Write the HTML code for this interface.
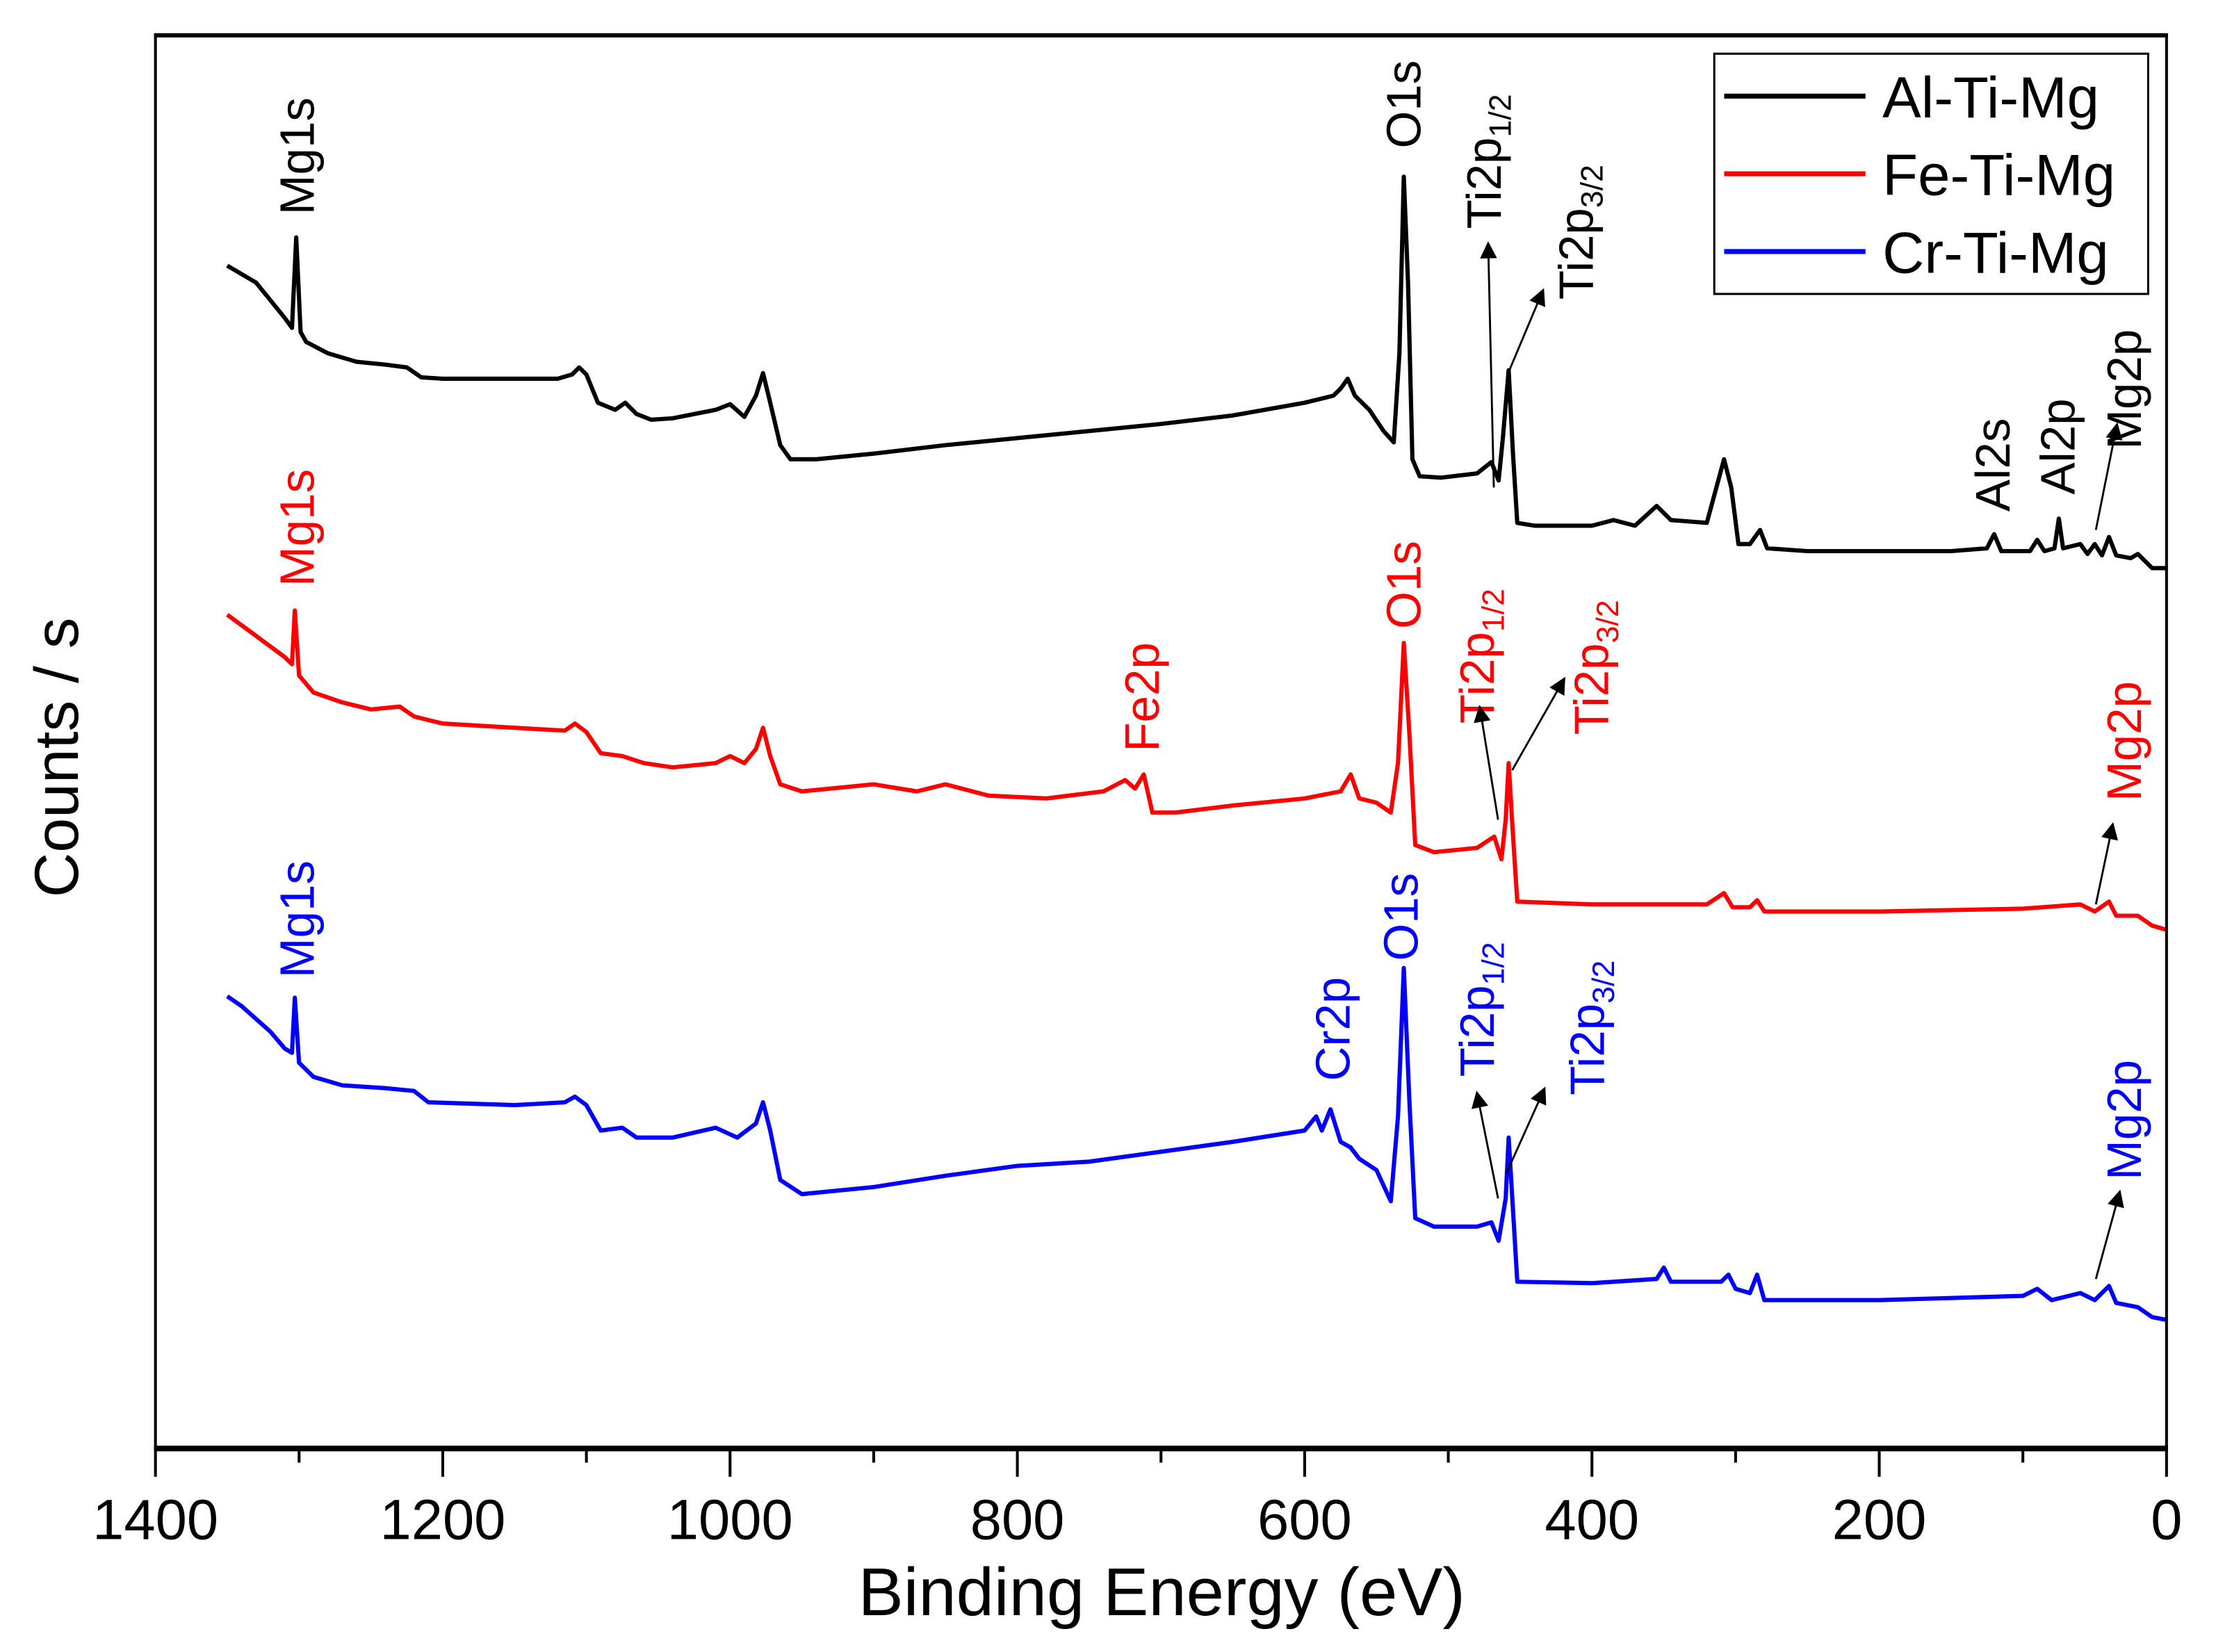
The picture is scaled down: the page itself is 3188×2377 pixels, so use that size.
<!DOCTYPE html>
<html><head><meta charset="utf-8"><style>
html,body{margin:0;padding:0;background:#fff;}
svg{display:block;font-family:"Liberation Sans",Arial,sans-serif;}
</style></head><body>
<svg id="chart" width="3188" height="2377" viewBox="0 0 1568 1169" preserveAspectRatio="none" xmlns="http://www.w3.org/2000/svg">
<defs>
<marker id="ahb" viewBox="0 0 10 10" refX="9" refY="5" markerWidth="24" markerHeight="12" orient="auto" markerUnits="userSpaceOnUse"><path d="M0,0 L10,5 L0,10 z" fill="#000"/></marker></defs>
<rect width="1568" height="1169" fill="#fff"/>
<g id="series"></g>
<g id="axes">
<line x1="109" y1="25" x2="1534" y2="25" stroke="#000" stroke-width="3"/>
<line x1="110" y1="24" x2="110" y2="1027" stroke="#000" stroke-width="2"/>
<line x1="1533" y1="24" x2="1533" y2="1027" stroke="#000" stroke-width="2"/>
<line x1="109" y1="1025" x2="1534" y2="1025" stroke="#000" stroke-width="4"/>
</g>
<text x="822" y="1143" font-size="48" text-anchor="middle">Binding Energy (eV)</text>
<text transform="translate(55,536) rotate(-90)" font-size="44" text-anchor="middle">Counts / s</text>
<g>
<rect x="1213" y="38" width="307" height="170" fill="#fff" stroke="#000" stroke-width="1.5"/>
<line x1="1220" y1="68" x2="1320" y2="68" stroke="#000" stroke-width="3.5"/>
<text x="1332" y="83" font-size="41">Al-Ti-Mg</text>
<line x1="1220" y1="123" x2="1320" y2="123" stroke="#f00" stroke-width="3.5"/>
<text x="1332" y="138" font-size="41">Fe-Ti-Mg</text>
<line x1="1220" y1="178" x2="1320" y2="178" stroke="#00f" stroke-width="3.5"/>
<text x="1332" y="193" font-size="41">Cr-Ti-Mg</text>
</g>
<g id="ann"></g>
</svg>
<script>
const xTicks = [1400,1200,1000,800,600,400,200,0];
const xMinor = [1300,1100,900,700,500,300,100];
const alE = [1350,1330,1310,1305,1302,1299,1295,1280,1260,1240,1225,1215,1200,1150,1120,1110,1105,1100,1092,1080,1073,1065,1055,1040,1010,1000,990,982,977,972,965,958,940,900,850,800,750,700,650,600,580,575,570,565,555,545,538,534,531,528,525,520,505,480,470,465,462,458,455,452,440,400,385,370,355,345,320,308,303,298,290,283,278,250,150,125,120,115,95,90,85,78,75,72,60,55,50,45,40,35,25,20,10,0];
const alY = [837,825,800,793,857,790,783,775,769,767,765,758,757,757,757,760,765,760,740,735,740,732,728,729,735,739,730,745,761,740,710,700,700,704,710,715,720,725,731,740,745,750,757,745,735,720,712,775,900,825,700,688,687,690,698,685,715,763,705,655,653,653,657,653,667,657,655,700,680,640,640,650,637,635,635,637,647,635,635,643,635,637,658,637,640,633,640,632,645,632,630,633,623,623];
const feE = [1350,1330,1310,1305,1303,1300,1290,1270,1250,1230,1220,1200,1150,1115,1108,1100,1090,1075,1060,1040,1010,1000,990,982,977,972,965,950,900,870,850,820,780,740,725,718,712,706,690,650,600,575,568,562,550,540,535,531,527,523,510,480,468,463,460,458,455,452,400,320,308,302,290,285,280,200,100,60,50,40,35,20,10,0];
const feY = [590,575,560,555,593,547,535,528,523,525,518,513,510,508,513,507,492,490,485,482,485,490,485,495,510,490,470,465,470,465,470,462,460,465,473,467,477,450,450,455,460,465,477,460,457,450,485,570,505,427,422,425,433,417,445,485,435,387,385,385,393,383,383,388,380,380,382,385,380,387,377,377,370,367];
const crE = [1350,1340,1320,1310,1305,1303,1300,1290,1270,1240,1220,1210,1150,1115,1108,1100,1090,1075,1065,1040,1010,995,982,977,972,965,950,900,850,800,750,700,650,600,592,588,582,575,568,562,550,540,535,531,527,523,510,480,470,465,460,458,455,452,400,355,350,345,310,305,300,290,285,280,200,100,90,80,60,50,40,35,20,10,0];
const crY = [320,313,295,283,280,319,273,263,257,255,253,245,243,245,249,243,225,227,220,220,227,220,230,245,225,190,180,185,193,200,203,210,217,225,235,225,240,217,213,205,197,175,235,340,245,163,157,157,160,147,177,220,170,118,117,120,128,118,118,123,113,110,123,105,105,108,113,105,110,105,115,103,100,93,91];
const series = [{name:'al-ti-mg',e:alE,v:alY,c:'#000'},{name:'fe-ti-mg',e:feE,v:feY,c:'#f00'},{name:'cr-ti-mg',e:crE,v:crY,c:'#00f'}];
const X0=1533,X1=110,Y0=1025,Y1=24;
function xs(e){return X0+(X1-X0)*e/1400;}
function ys(v){return Y0-(Y0-Y1)*v/1001;}
const NS='http://www.w3.org/2000/svg';
const sg=document.getElementById('series');
series.forEach(s=>{
  const p=document.createElementNS(NS,'path');
  
  
  p.setAttribute('d', s.e.map((e,i)=>(i?'L':'M')+xs(e).toFixed(1)+','+ys(s.v[i]).toFixed(1)).join(''));
  p.setAttribute('fill','none');p.setAttribute('stroke',s.c);p.setAttribute('stroke-width','3');p.setAttribute('stroke-linejoin','round');
  sg.appendChild(p);
});
const ax=document.getElementById('axes');
xTicks.forEach(t=>{
  const l=document.createElementNS(NS,'line');
  
  
  l.setAttribute('x1',xs(t));l.setAttribute('x2',xs(t));l.setAttribute('y1',1025);l.setAttribute('y2',1045);l.setAttribute('stroke','#000');l.setAttribute('stroke-width','2');
  ax.appendChild(l);
  const tx=document.createElementNS(NS,'text');
  
  
  tx.setAttribute('x',xs(t));tx.setAttribute('y',1089);tx.setAttribute('font-size','40');tx.setAttribute('text-anchor','middle');
  tx.textContent=t;ax.appendChild(tx);
});
xMinor.forEach(t=>{
  const l=document.createElementNS(NS,'line');
  
  
  l.setAttribute('x1',xs(t));l.setAttribute('x2',xs(t));l.setAttribute('y1',1025);l.setAttribute('y2',1035);l.setAttribute('stroke','#000');l.setAttribute('stroke-width','2');
  ax.appendChild(l);
});
const labels=[
 ['Mg1s','',222,152,'#000'],['O1s','',1005,105,'#000'],['Ti2p','1/2',1062,162,'#000'],['Ti2p','3/2',1127,212,'#000'],
 ['Al2s','',1422,362,'#000'],['Al2p','',1468,350,'#000'],['Mg2p','',1515,318,'#000'],
 ['Mg1s','',222,415,'#f00'],['O1s','',1005,445,'#f00'],['Fe2p','',820,532,'#f00'],['Ti2p','1/2',1057,512,'#f00'],['Ti2p','3/2',1138,520,'#f00'],['Mg2p','',1515,567,'#f00'],
 ['Mg1s','',222,692,'#00f'],['O1s','',1003,680,'#00f'],['Cr2p','',955,765,'#00f'],['Ti2p','1/2',1057,762,'#00f'],['Ti2p','3/2',1135,775,'#00f'],['Mg2p','',1515,835,'#00f']];
const an=document.getElementById('ann');
labels.forEach((L,i)=>{
  const t=document.createElementNS(NS,'text');
  
  
  t.setAttribute('transform','translate('+L[2]+','+L[3]+') rotate(-90)');
  t.setAttribute('font-size','34');t.setAttribute('fill',L[4]);
  t.textContent=L[0];
  if(L[1]){const s=document.createElementNS(NS,'tspan');s.setAttribute('font-size','22');s.setAttribute('dy','7');s.textContent=L[1];t.appendChild(s);}
  an.appendChild(t);
});
const arrows=[[1057,345,1053,172],[1068,262,1092,205],[1483,375,1498,300],[1060,580,1047,500],[1070,545,1107,480],[1483,640,1495,583],[1060,848,1045,773],[1066,830,1093,770],[1483,905,1500,843]];
arrows.forEach((a,i)=>{
  const l=document.createElementNS(NS,'line');
  
  
  l.setAttribute('x1',a[0]);l.setAttribute('y1',a[1]);l.setAttribute('x2',a[2]);l.setAttribute('y2',a[3]);
  l.setAttribute('stroke','#000');l.setAttribute('stroke-width','1.4');l.setAttribute('marker-end','url(#ahb)');
  an.appendChild(l);
});
</script>
</body></html>
